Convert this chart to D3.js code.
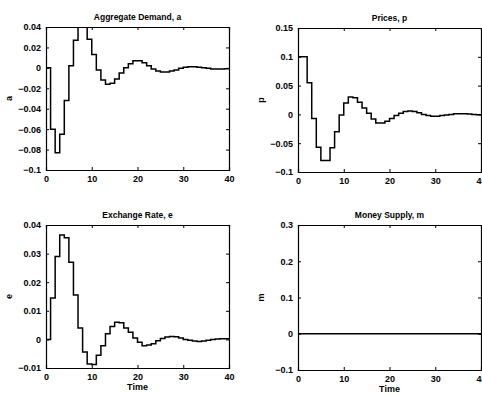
<!DOCTYPE html>
<html>
<head>
<script src="https://cdn.jsdelivr.net/npm/d3@7"></script>
<style>
  body { margin: 0; background: #fff; }
  text { font-family: "Liberation Sans", Arial, sans-serif; fill: #000; }
</style>
</head>
<body>
<div id="viz"></div>
<script>
// impulse responses, one value per period t = 0..40
var demand = [0, -0.06, -0.083, -0.065, -0.032, 0.002, 0.027, 0.04, 0.04, 0.028,
  0.013, -0.002, -0.012, -0.016, -0.015, -0.011, -0.005, 0.0, 0.004, 0.007,
  0.007, 0.005, 0.002, -0.001, -0.003, -0.004, -0.004, -0.003, -0.002, -0.0005,
  0.0005, 0.001, 0.001, 0.0005, 0, -0.0005, -0.001, -0.001, -0.001, -0.0008, -0.0005];
var prices = [0.1, 0.1, 0.055, -0.007, -0.057, -0.08, -0.08, -0.058, -0.03, -0.001,
  0.02, 0.03, 0.029, 0.021, 0.011, 0.002, -0.008, -0.015, -0.015, -0.012,
  -0.007, -0.002, 0.002, 0.005, 0.006, 0.005, 0.003, 0.0, -0.002, -0.003,
  -0.003, -0.002, -0.001, 0, 0.001, 0.001, 0.001, 0.0005, 0, -0.0005, -0.001];
var exchange = [0, 0.0145, 0.029, 0.0365, 0.0355, 0.027, 0.0155, 0.004, -0.0044, -0.0086,
  -0.0088, -0.0055, -0.0022, 0.002, 0.0045, 0.006, 0.0058, 0.004, 0.0025, 0.0005,
  -0.001, -0.0022, -0.002, -0.0015, -0.0005, 0.0003, 0.0008, 0.001, 0.0009, 0.0005,
  0, -0.0003, -0.0006, -0.0007, -0.0006, -0.0003, 0, 0.0001, 0.0002, 0.0002, 0.0001];
var money = [0, 0, 0, 0, 0, 0, 0, 0, 0, 0, 0, 0, 0, 0, 0, 0, 0, 0, 0, 0,
  0, 0, 0, 0, 0, 0, 0, 0, 0, 0, 0, 0, 0, 0, 0, 0, 0, 0, 0, 0, 0];

var xTicks = [0, 10, 20, 30, 40];
var demandTicks = [0.04, 0.02, 0, -0.02, -0.04, -0.06, -0.08, -0.1];
var pricesTicks = [0.15, 0.1, 0.05, 0, -0.05, -0.1];
var exchangeTicks = [0.04, 0.03, 0.02, 0.01, 0, -0.01];
var moneyTicks = [0.3, 0.2, 0.1, 0, -0.1];

var panels = [
  {title: "Aggregate Demand, a", ylab: "a", data: demand, dom: [-0.1, 0.04], ticks: demandTicks,
   x0: 46, x1: 229, y0: 27, y1: 170, time: false},
  {title: "Prices, p", ylab: "p", data: prices, dom: [-0.1, 0.15], ticks: pricesTicks,
   x0: 298, x1: 481, y0: 28, y1: 172, time: false},
  {title: "Exchange Rate, e", ylab: "e", data: exchange, dom: [-0.01, 0.04], ticks: exchangeTicks,
   x0: 46, x1: 229, y0: 225, y1: 368, time: true},
  {title: "Money Supply, m", ylab: "m", data: money, dom: [-0.1, 0.3], ticks: moneyTicks,
   x0: 298, x1: 481, y0: 225, y1: 370, time: true}
];

var svg = d3.select("#viz").append("svg")
  .attr("width", 482)
  .attr("height", 396);

function fmt(v) {
  if (v === 0) return "0";
  return String(+v.toFixed(3)).replace("-", "\u2212");
}

panels.forEach(function (p) {
  var x = d3.scaleLinear().domain([0, 40]).range([p.x0, p.x1]);
  var y = d3.scaleLinear().domain(p.dom).range([p.y1, p.y0]);
  var g = svg.append("g");

  // clip so the step line stays inside the box
  var id = "clip" + p.ylab;
  g.append("clipPath").attr("id", id).append("rect")
    .attr("x", p.x0).attr("y", p.y0)
    .attr("width", p.x1 - p.x0).attr("height", p.y1 - p.y0);

  var line = d3.line()
    .x(function (d, i) { return x(i); })
    .y(function (d) { return y(d); })
    .curve(d3.curveStepAfter);

  g.append("path")
    .datum(p.data)
    .attr("clip-path", "url(#" + id + ")")
    .attr("fill", "none")
    .attr("stroke", "#000")
    .attr("stroke-width", 1.5)
    .attr("d", line);

  // axes, ticks pointing inward as in matlab
  var bottom = d3.axisBottom(x).tickValues(xTicks).tickSize(-3).tickPadding(6).tickFormat(d3.format("d"));
  var left = d3.axisLeft(y).tickValues(p.ticks).tickSize(-3).tickPadding(5).tickFormat(fmt);
  var top = d3.axisTop(x).tickValues(xTicks).tickSize(-3).tickFormat("");
  var right = d3.axisRight(y).tickValues(p.ticks).tickSize(-3).tickFormat("");

  g.append("g").attr("transform", "translate(0," + p.y1 + ")").call(bottom);
  g.append("g").attr("transform", "translate(" + p.x0 + ",0)").call(left);
  g.append("g").attr("transform", "translate(0," + p.y0 + ")").call(top);
  g.append("g").attr("transform", "translate(" + p.x1 + ",0)").call(right);

  g.selectAll(".domain").attr("stroke", "#000").attr("stroke-width", 1.2);
  g.selectAll(".tick line").attr("stroke", "#000");
  g.selectAll(".tick text")
    .style("font-family", "'Liberation Sans', Arial, sans-serif")
    .style("font-size", "9px")
    .style("font-weight", "bold");

  g.append("text")
    .attr("x", (p.x0 + p.x1) / 2)
    .attr("y", p.y0 - 7)
    .attr("text-anchor", "middle")
    .style("font-size", "8.5px")
    .style("font-weight", "bold")
    .text(p.title);

  g.append("text")
    .attr("transform", "translate(" + (p.x0 - 34) + "," + ((p.y0 + p.y1) / 2) + ") rotate(-90)")
    .attr("text-anchor", "middle")
    .style("font-size", "9px")
    .style("font-weight", "bold")
    .text(p.ylab);

  if (p.time) {
    g.append("text")
      .attr("x", (p.x0 + p.x1) / 2)
      .attr("y", p.y1 + 22)
      .attr("text-anchor", "middle")
      .style("font-size", "9px")
      .style("font-weight", "bold")
      .text("Time");
  }
});
</script>
</body>
</html>
